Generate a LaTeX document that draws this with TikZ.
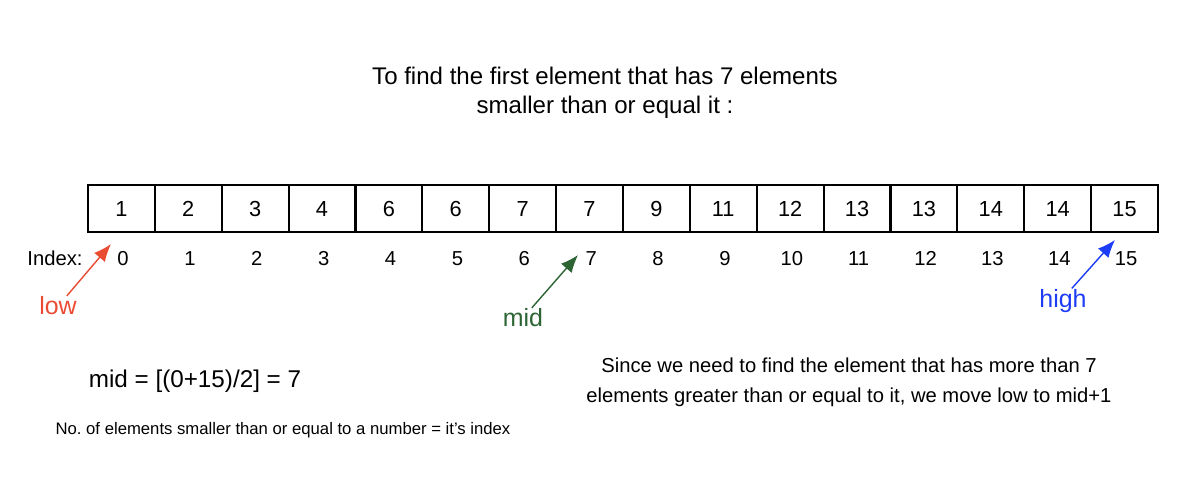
\documentclass[tikz,border=0pt]{standalone}
\usepackage{fontspec}
\setmainfont{Liberation Sans}
\usepackage{tikz}
\usetikzlibrary{arrows.meta,positioning,calc}
\definecolor{lowred}{RGB}{234,76,51}
\definecolor{midgreen}{RGB}{44,100,52}
\definecolor{highblue}{RGB}{28,60,245}
\frenchspacing
\tikzset{
  cell/.style={draw,line width=1.2pt,minimum width=1.3375cm,minimum height=0.94cm,
    inner sep=0pt,outer sep=0pt,text height=9pt,text depth=0pt,
    font=\fontsize{12.4}{14}\selectfont},
  idx/.style={font=\fontsize{11.5}{13}\selectfont,inner sep=1pt,text height=8.5pt,text depth=0pt},
  pointer/.style={-{Latex[length=10pt,width=8pt]},line width=0.8pt},
  ptrlabel/.style={font=\fontsize{14.2}{16}\selectfont},
  note/.style={align=center}
}

\begin{document}
\begin{tikzpicture}[x=0.02cm,y=-0.02cm]
  \useasboundingbox (0,0) rectangle (1200,488);
  % heading
  \node[note,font=\fontsize{13.7}{16.4}\selectfont] (title) at (605,93)
    {To find the first element that has 7 elements\\smaller than or equal it :};
  % the array and its indices
  \foreach \v [count=\i from 0] in {1,2,3,4,6,6,7,7,9,11,12,13,13,14,14,15} {
    \node[cell] (c\i) at ({121.4+66.875*\i},208.5) {\v};
    \node[idx] (i\i) at ({123+66.875*\i},258) {\i};
  }
  \node[idx] (index) at (55,258) {Index:};
  % pointers
  \coordinate (lowtip) at (111,244);
  \coordinate (midtip) at (578,255);
  \coordinate (hightip) at (1115,240);
  \node[ptrlabel,text=lowred] (low) at (58,306) {low};
  \node[ptrlabel,text=midgreen] (mid) at (523,318) {mid};
  \node[ptrlabel,text=highblue] (high) at (1063,301) {high};
  \draw[pointer,lowred] ([xshift=5pt,yshift=-3pt]low.north) -- (lowtip);
  \draw[pointer,midgreen] ([xshift=5pt,yshift=-3pt]mid.north) -- (midtip);
  \draw[pointer,highblue] ([xshift=5pt,yshift=-3pt]high.north) -- (hightip);
  % notes
  \node[font=\fontsize{13.8}{16}\selectfont] (formula) at (195,381) {mid = [(0+15)/2] = 7};
  \node[font=\fontsize{9.5}{11}\selectfont] (rule) at (283,430)
    {No. of elements smaller than or equal to a number = it's index};
  \node[note,font=\fontsize{11.5}{17}\selectfont] (since) at (849,382)
    {Since we need to find the element that has more than 7\\elements greater than or equal to it, we move low to mid+1};
\end{tikzpicture}
\end{document}
